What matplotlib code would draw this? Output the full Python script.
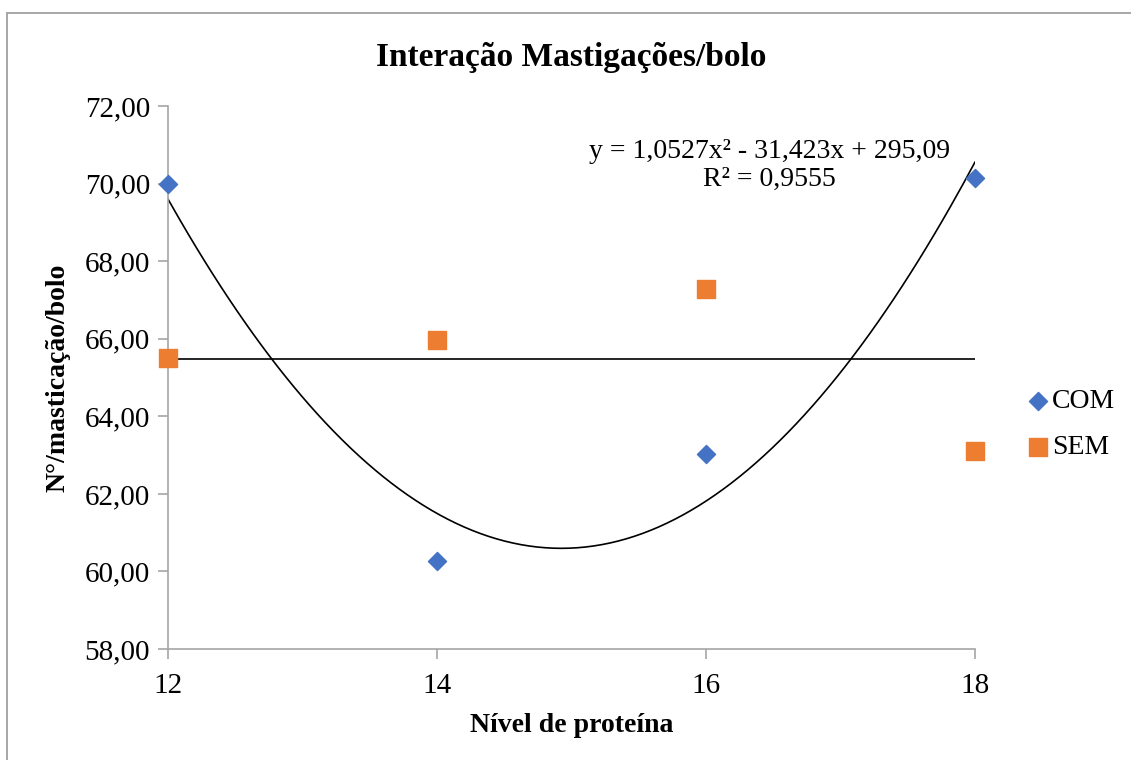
import matplotlib
matplotlib.use("Agg")
import matplotlib.pyplot as plt
from matplotlib.patches import Rectangle
import numpy as np

plt.rcParams['font.family'] = ['Liberation Serif', 'DejaVu Serif']

nivel = [12, 14, 16, 18]
com = [70.00, 60.27, 63.03, 70.15]
sem = [65.50, 65.98, 67.28, 63.10]
coef = [1.0527, -31.423, 295.09]  # quadratic trend for COM
yticks = [58, 60, 62, 64, 66, 68, 70, 72]
xticks = [12, 14, 16, 18]

fig = plt.figure(figsize=(11.31, 7.6), dpi=100)
ax = fig.add_axes([0.1485, 0.146, 0.7135, 0.7145])

# outer chart border
fig.patches.append(Rectangle((7 / 1131, -0.01), 1.02, 1 - 13 / 760 + 0.01,
                             transform=fig.transFigure, fill=False,
                             edgecolor='#a0a0a0', linewidth=1.3))

xs = np.linspace(12, 18, 200)
ax.plot(xs, np.polyval(coef, xs), color='black', linewidth=1.2, zorder=2)
ax.plot([12, 18], [np.mean(sem), np.mean(sem)], color='black', linewidth=1.2, zorder=2)

ax.scatter(nivel, com, marker='D', s=85, color='#4472C4', label='COM', zorder=3, clip_on=False)
ax.scatter(nivel, sem, marker='s', s=150, color='#ED7D31', label='SEM', zorder=3, clip_on=False)

ax.set_xlim(12, 18)
ax.set_ylim(58, 72)
ax.set_xticks(xticks)
ax.set_yticks(yticks)
ax.set_yticklabels([f"{v:.2f}".replace('.', ',') for v in yticks])
ax.tick_params(axis='both', labelsize=21, color='#a6a6a6', length=7, width=1.2)
ax.tick_params(axis='x', pad=10)
ax.tick_params(axis='y', pad=6)

for side in ['top', 'right']:
    ax.spines[side].set_visible(False)
for side in ['left', 'bottom']:
    ax.spines[side].set_color('#a6a6a6')
    ax.spines[side].set_linewidth(1.2)

ax.set_title("Interação Mastigações/bolo", fontsize=24, fontweight='bold', pad=29)
ax.set_xlabel("Nível de proteína", fontsize=20, fontweight='bold', labelpad=10)
ax.set_ylabel("N°/masticação/bolo", fontsize=20, fontweight='bold', labelpad=10)

ax.text(0.745, 0.89, "y = 1,0527x² - 31,423x + 295,09\nR² = 0,9555", transform=ax.transAxes,
        ha='center', va='center', fontsize=20, linespacing=1.15)

ax.legend(loc='center left', bbox_to_anchor=(1.065, 0.414), frameon=False, fontsize=20,
          handletextpad=0.1, handlelength=0.8, labelspacing=0.75, scatterpoints=1,
          borderaxespad=0, borderpad=0)

fig.savefig("out.png", dpi=100)
